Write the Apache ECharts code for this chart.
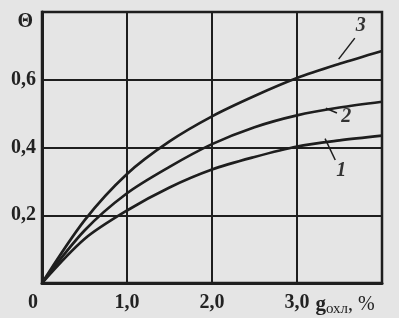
<!DOCTYPE html>
<html><head><meta charset="utf-8">
<script src="https://cdn.jsdelivr.net/npm/echarts@6/dist/echarts.min.js"></script>
<style>html,body{margin:0;padding:0;background:#e5e5e5}#c{width:399px;height:318px}</style>
</head><body><div id="c"></div>
<script>
const xValues = [0, 0.5, 1.0, 1.5, 2.0, 2.5, 3.0, 3.5, 4.0];
const curve1 = [0, 0.13, 0.214, 0.282, 0.335, 0.372, 0.403, 0.421, 0.435];
const curve2 = [0, 0.155, 0.265, 0.343, 0.41, 0.46, 0.495, 0.518, 0.535];
const curve3 = [0, 0.185, 0.322, 0.418, 0.492, 0.552, 0.605, 0.647, 0.685];
const curveNames = ['1', '2', '3'];
// leader lines: [start x, start y, end x, end y], label position [x, y]
const leaders = [[3.33, 0.426, 3.45, 0.363], [3.34, 0.516, 3.47, 0.502], [3.49, 0.661, 3.68, 0.723]];
const labelPos = [[3.52, 0.33], [3.58, 0.49], [3.75, 0.76]];
const yTicks = ['0,2', '0,4', '0,6'];
const xTicks = ['0', '1,0', '2,0', '3,0'];

const ink = '#1e1e1e';
const serif = '"Liberation Serif", "DejaVu Serif", serif';
const chart = echarts.init(document.getElementById('c'));
const mk = (ys) => xValues.map((x, i) => [x, ys[i]]);
const curves = [curve1, curve2, curve3];
const series = curves.map((ys, k) => ({
  type: 'line', data: mk(ys), smooth: 0.3, showSymbol: false,
  lineStyle: {color: ink, width: 2.7}, animation: false,
  markLine: {
    silent: true, symbol: ['none', 'none'], animation: false,
    lineStyle: {color: ink, width: 1.5, type: 'solid'}, label: {show: false},
    data: [[{coord: [leaders[k][0], leaders[k][1]]}, {coord: [leaders[k][2], leaders[k][3]]}]]
  },
  markPoint: {
    silent: true, symbol: 'circle', symbolSize: 1, animation: false,
    itemStyle: {color: 'rgba(0,0,0,0)'},
    label: {show: true, formatter: curveNames[k], color: '#333', fontFamily: serif,
      fontStyle: 'italic', fontWeight: 'bold', fontSize: 20, position: 'inside'},
    data: [{coord: labelPos[k]}]
  }
}));
chart.setOption({
  backgroundColor: '#e5e5e5',
  animation: false,
  grid: {left: 42, right: 17, top: 12, bottom: 35, show: true, borderColor: ink, borderWidth: 2.5},
  xAxis: {
    type: 'value', min: 0, max: 4, interval: 1,
    axisLine: {show: true, onZero: false, lineStyle: {color: ink, width: 3}},
    axisTick: {show: false},
    splitLine: {show: true, lineStyle: {color: ink, width: 2}},
    axisLabel: {
      margin: 10, color: '#222', fontFamily: serif, fontWeight: 'bold', fontSize: 20,
      formatter: (v) => v === 0 ? '{z|0}' : (v < 4 ? xTicks[Math.round(v)] : ''),
      rich: {z: {padding: [0, 18, 0, 0], fontFamily: serif, fontWeight: 'bold', fontSize: 20, color: '#222'}}
    },
    name: '{g|g}{s|охл}{t|, %}', nameLocation: 'end', nameGap: -67,
    nameTextStyle: {
      align: 'left', verticalAlign: 'top', padding: [9, 0, 0, 0],
      rich: {
        g: {fontFamily: serif, fontWeight: 'bold', fontSize: 21, color: '#222'},
        s: {fontFamily: serif, fontSize: 15, color: '#222', padding: [10, 0, 0, 0]},
        t: {fontFamily: serif, fontSize: 20, color: '#222'}
      }
    }
  },
  yAxis: {
    type: 'value', min: 0, max: 0.8, interval: 0.2,
    axisLine: {show: true, onZero: false, lineStyle: {color: ink, width: 3}},
    axisTick: {show: false},
    splitLine: {show: true, lineStyle: {color: ink, width: 2}},
    axisLabel: {
      margin: 6, color: '#222', fontFamily: serif, fontWeight: 'bold', fontSize: 20,
      formatter: (v) => { const i = Math.round(v / 0.2); return (i >= 1 && i <= 3) ? yTicks[i - 1] : ''; }
    },
    name: 'Θ', nameLocation: 'end', nameGap: -10,
    nameTextStyle: {align: 'right', verticalAlign: 'middle', padding: [0, 9, 0, 0],
      fontFamily: serif, fontWeight: 'bold', fontSize: 20, color: '#222'}
  },
  series: series
});
</script></body></html>
